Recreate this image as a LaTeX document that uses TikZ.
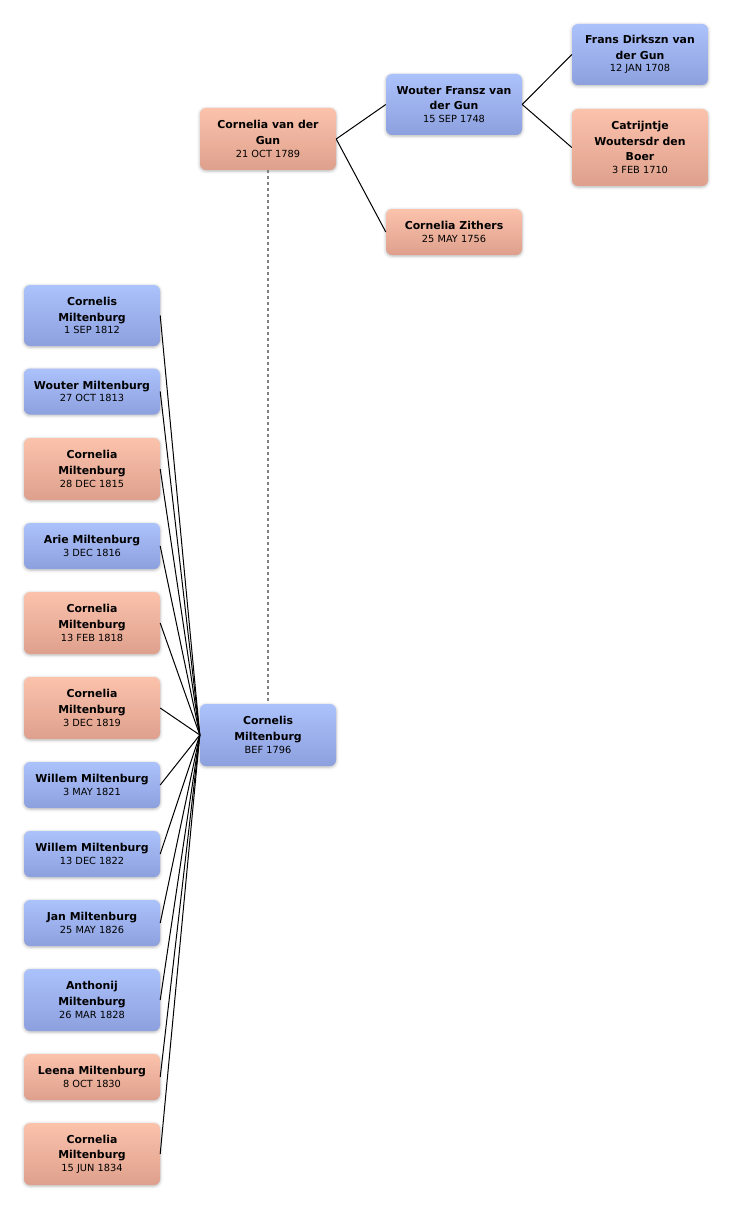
\documentclass[tikz,border=0pt]{standalone}
\usepackage{fontspec}
\setmainfont{DejaVu Sans}
\usetikzlibrary{shadows.blur}
\definecolor{mtop}{RGB}{172,194,251}
\definecolor{mbot}{RGB}{140,160,222}
\definecolor{ftop}{RGB}{251,194,172}
\definecolor{fbot}{RGB}{222,160,140}
\newcommand{\dt}[1]{{\fontsize{9.8}{11}\selectfont\mdseries #1}}
\tikzset{
  pbox/.style={rounded corners=6pt, minimum width=136pt, inner sep=2pt, align=center,
    font=\fontsize{10.9}{15.6}\selectfont\bfseries,
    blur shadow={shadow xshift=0pt, shadow yshift=-1pt, shadow blur radius=3pt, shadow opacity=30}},
  man/.style={pbox, top color=mtop, bottom color=mbot},
  woman/.style={pbox, top color=ftop, bottom color=fbot},
  link/.style={line width=1pt, black}
}
\begin{document}
\begin{tikzpicture}[x=1pt, y=-1pt]
\useasboundingbox (0,0) rectangle (732,1209);
% ancestors
\node[woman, minimum height=62] (tid1) at (268,139){Cornelia van der\\Gun\\[-3pt]\dt{21 OCT 1789}};
\node[man, minimum height=61] (tid2) at (454,104.5){Wouter Fransz van\\der Gun\\[-3pt]\dt{15 SEP 1748}};
\node[woman, minimum height=46] (tid3) at (454,232){Cornelia Zithers\\[-3pt]\dt{25 MAY 1756}};
\node[man, minimum height=61] (tid4) at (640,54.5){Frans Dirkszn van\\der Gun\\[-3pt]\dt{12 JAN 1708}};
\node[woman, minimum height=77] (tid5) at (640,147.5){Catrijntje\\Woutersdr den\\Boer\\[-3pt]\dt{3 FEB 1710}};
% root
\node[man, minimum height=62] (tid0) at (268,735){Cornelis\\Miltenburg\\[-3pt]\dt{BEF 1796}};
% children
\node[man, minimum height=61] (cid1) at (92,315.5){Cornelis\\Miltenburg\\[-3pt]\dt{1 SEP 1812}};
\node[man, minimum height=46] (cid2) at (92,391.5){Wouter Miltenburg\\[-3pt]\dt{27 OCT 1813}};
\node[woman, minimum height=62] (cid3) at (92,469){Cornelia\\Miltenburg\\[-3pt]\dt{28 DEC 1815}};
\node[man, minimum height=46] (cid4) at (92,546){Arie Miltenburg\\[-3pt]\dt{3 DEC 1816}};
\node[woman, minimum height=62] (cid5) at (92,623){Cornelia\\Miltenburg\\[-3pt]\dt{13 FEB 1818}};
\node[woman, minimum height=62] (cid6) at (92,708){Cornelia\\Miltenburg\\[-3pt]\dt{3 DEC 1819}};
\node[man, minimum height=46] (cid7) at (92,785){Willem Miltenburg\\[-3pt]\dt{3 MAY 1821}};
\node[man, minimum height=46] (cid8) at (92,854){Willem Miltenburg\\[-3pt]\dt{13 DEC 1822}};
\node[man, minimum height=46] (cid9) at (92,923){Jan Miltenburg\\[-3pt]\dt{25 MAY 1826}};
\node[man, minimum height=62] (cid10) at (92,1000){Anthonij\\Miltenburg\\[-3pt]\dt{26 MAR 1828}};
\node[woman, minimum height=46] (cid11) at (92,1077){Leena Miltenburg\\[-3pt]\dt{8 OCT 1830}};
\node[woman, minimum height=62] (cid12) at (92,1154){Cornelia\\Miltenburg\\[-3pt]\dt{15 JUN 1834}};
\draw[link](tid1.east) -- (tid2.west);
\draw[link](tid1.east) -- (tid3.west);
\draw[link](tid2.east) -- (tid4.west);
\draw[link](tid2.east) -- (tid5.west);
\draw[gray, line width=1.5pt, dash pattern=on 3pt off 3pt](tid1.south) -- (tid0.north);
\foreach \i in {1,...,12}
  \draw[link](cid\i.east) -- (tid0.west);
\end{tikzpicture}
\end{document}
